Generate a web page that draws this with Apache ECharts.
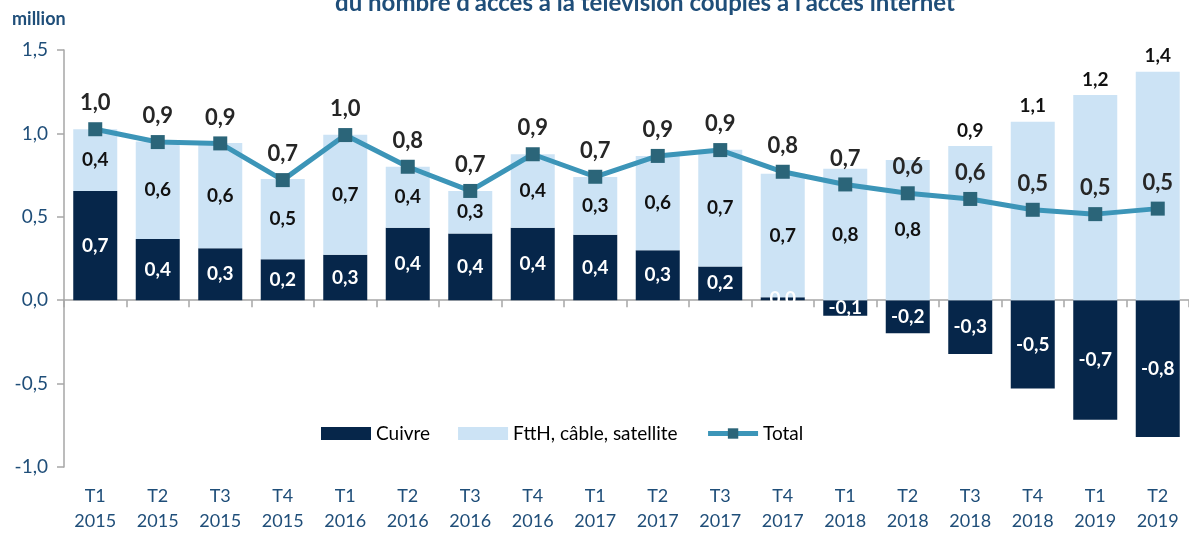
<!DOCTYPE html>
<html>
<head>
<meta charset="utf-8">
<script src="https://cdn.jsdelivr.net/npm/echarts@6/dist/echarts.min.js"></script>
<style>html,body{margin:0;padding:0;background:#fff}#c{width:1189px;height:534px}</style>
</head>
<body>
<div id="c"></div>
<script>
const categories = ["T1\n2015","T2\n2015","T3\n2015","T4\n2015","T1\n2016","T2\n2016","T3\n2016","T4\n2016","T1\n2017","T2\n2017","T3\n2017","T4\n2017","T1\n2018","T2\n2018","T3\n2018","T4\n2018","T1\n2019","T2\n2019"];
const cuivre = [0.655,0.367,0.311,0.246,0.272,0.435,0.40,0.435,0.393,0.30,0.202,0.018,-0.093,-0.198,-0.323,-0.53,-0.716,-0.82];
const ftth = [0.37,0.585,0.631,0.48,0.72,0.365,0.255,0.44,0.345,0.565,0.70,0.74,0.788,0.84,0.925,1.07,1.23,1.37];
const total = [1.025,0.948,0.94,0.72,0.99,0.80,0.655,0.875,0.74,0.865,0.90,0.77,0.694,0.641,0.607,0.542,0.516,0.549];
const yTicks = [-1, -0.5, 0, 0.5, 1, 1.5];
const ftthTopLabelFrom = 14; // index from which FttH label sits above bar

const fmt = v => (Math.round(v*10)/10).toFixed(1).replace('.', ',');
const FONT = 'Lato';
const BLUE = '#1F4E79';

const chart = echarts.init(document.getElementById('c'), null, {renderer:'canvas'});
chart.setOption({
  animation: false,
  textStyle: {fontFamily: FONT},
  graphic: [
    {type:'text', left:12, top:10, style:{text:'million', font:'bold 18px '+FONT, fill:BLUE}},
    {type:'text', x:645, y:3, style:{text:"du nombre d'accès à la télévision couplés à l'accès internet", font:'bold 24px '+FONT, fill:BLUE, textAlign:'center', textVerticalAlign:'middle'}}
  ],
  legend: {
    left: 316, top: 419,
    itemWidth: 50, itemHeight: 13, itemGap: 28,
    textStyle: {fontSize: 19, color: '#000', fontFamily: FONT},
    data: [
      {name:'Cuivre', icon:'rect'},
      {name:'FttH, câble, satellite', icon:'rect'},
      {name:'Total', lineStyle: {width: 5, color: '#3C95B8'}}
    ]
  },
  grid: {left: 64, top: 50, height: 421, width: 1132},
  xAxis: [
    {
      type: 'category', data: categories,
      axisLine: {onZero: true, lineStyle: {color: '#A6A6A6', width: 1.5}},
      axisTick: {show: true, length: 7, lineStyle: {color: '#A6A6A6', width: 1.5}},
      axisLabel: {show: false}
    },
    {
      type: 'category', data: categories, position: 'bottom',
      axisLine: {show: false, onZero: false}, axisTick: {show: false},
      axisLabel: {color: BLUE, fontSize: 18, lineHeight: 25, margin: 17, fontFamily: FONT, interval: 0}
    }
  ],
  yAxis: {
    type: 'value', min: -1, max: 1.5, interval: 0.5,
    splitLine: {show: false},
    axisLine: {show: true, lineStyle: {color: '#A6A6A6', width: 1.5}},
    axisTick: {show: true, length: 7, lineStyle: {color: '#A6A6A6', width: 1.5}},
    axisLabel: {color: BLUE, fontSize: 19, margin: 16, fontFamily: FONT,
      formatter: v => yTicks.includes(v) ? fmt(v) : ''}
  },
  series: [
    {
      name: 'Cuivre', type: 'bar', stack: 'a', barWidth: 44,
      itemStyle: {color: '#06264A'},
      label: {show: true, position: 'inside', color: '#fff', fontWeight: 'bold', fontSize: 19, fontFamily: FONT,
        formatter: p => fmt(p.value)},
      data: cuivre
    },
    {
      name: 'FttH, câble, satellite', type: 'bar', stack: 'a', barWidth: 44,
      itemStyle: {color: '#CCE3F5'},
      label: {show: true, position: 'inside', color: '#111', fontWeight: 'bold', fontSize: 19, fontFamily: FONT,
        formatter: p => fmt(p.value)},
      data: ftth.map((v, i) => i >= ftthTopLabelFrom ? {value: v, label: {position: 'top', distance: 6}} : v)
    },
    {
      name: 'Total', type: 'line', z: 5,
      lineStyle: {color: '#3C95B8', width: 5},
      itemStyle: {color: '#2B6579'},
      symbol: 'rect', symbolSize: 14,
      label: {show: true, position: 'top', distance: 8, color: '#262626', fontWeight: 'bold', fontSize: 22, fontFamily: FONT,
        formatter: p => fmt(p.value)},
      data: total
    }
  ]
});
</script>
</body>
</html>
